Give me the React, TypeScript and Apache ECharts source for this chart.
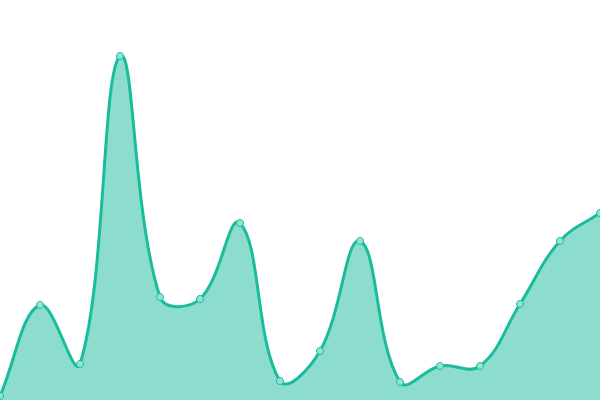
import React, { useEffect, useRef } from "react";
import * as echarts from "echarts";

const categories = ["1", "2", "3", "4", "5", "6", "7", "8", "9", "10", "11", "12", "13", "14", "15", "16"];
const values = [4, 95, 36, 344, 103, 101, 177, 19, 49, 159, 18, 34, 34, 96, 159, 187];

const TENSION = 0.4;
const LINE = "#1abc9c";
const FILL = "rgba(26,188,156,0.5)";
const POINT_FILL = "#93e3d3";

function controlPoints(pts: number[][]) {
  const res: { prev: number[]; next: number[] }[] = [];
  for (let i = 0; i < pts.length; i++) {
    const cur = pts[i];
    const prev = pts[i - 1] || cur;
    const next = pts[i + 1] || cur;
    const d01 = Math.hypot(cur[0] - prev[0], cur[1] - prev[1]);
    const d12 = Math.hypot(next[0] - cur[0], next[1] - cur[1]);
    let s01 = d01 / (d01 + d12);
    let s12 = d12 / (d01 + d12);
    if (!isFinite(s01)) s01 = 0;
    if (!isFinite(s12)) s12 = 0;
    const fa = TENSION * s01;
    const fb = TENSION * s12;
    const dx = next[0] - prev[0];
    const dy = next[1] - prev[1];
    res.push({
      prev: [cur[0] - fa * dx, cur[1] - fa * dy],
      next: [cur[0] + fb * dx, cur[1] + fb * dy],
    });
  }
  return res;
}

function curvePath(pts: number[][]) {
  const cps = controlPoints(pts);
  let d = `M${pts[0][0]},${pts[0][1]}`;
  for (let i = 1; i < pts.length; i++) {
    const c1 = cps[i - 1].next;
    const c2 = cps[i].prev;
    d += ` C${c1[0]},${c1[1]} ${c2[0]},${c2[1]} ${pts[i][0]},${pts[i][1]}`;
  }
  return d;
}

export default function App() {
  const ref = useRef<HTMLDivElement>(null);
  useEffect(() => {
    document.body.style.margin = "0";
    const chart = echarts.init(ref.current!, null, { renderer: "svg" });
    chart.setOption({
      animation: false,
      grid: { left: 0, right: 0, top: 0, bottom: 0 },
      xAxis: { type: "category", data: categories, boundaryGap: false, show: false },
      yAxis: { type: "value", min: 0, max: 400, show: false },
      series: [
        {
          type: "custom",
          data: values.map((v, i) => [i, v]),
          encode: { x: 0, y: 1 },
          clip: false,
          renderItem: (params: any, api: any) => {
            const idx = params.dataIndex;
            const pts = values.map((v, i) => api.coord([i, v]));
            const p = pts[idx];
            const circle = {
              type: "circle",
              z2: 10,
              shape: { cx: p[0], cy: p[1], r: 3.5 },
              style: { fill: POINT_FILL, stroke: LINE, lineWidth: 1 },
            };
            if (idx !== 0) return circle;
            const bottom = api.coord([0, 0])[1];
            const line = curvePath(pts);
            const last = pts[pts.length - 1];
            const area = `${line} L${last[0]},${bottom} L${pts[0][0]},${bottom} Z`;
            return {
              type: "group",
              children: [
                { type: "path", shape: { pathData: area }, style: { fill: FILL, stroke: null } },
                { type: "path", shape: { pathData: line }, style: { fill: null, stroke: LINE, lineWidth: 3 } },
                circle,
              ],
            };
          },
        },
      ],
    });
    return () => chart.dispose();
  }, []);
  return <div ref={ref} style={{ width: 600, height: 400 }} />;
}
